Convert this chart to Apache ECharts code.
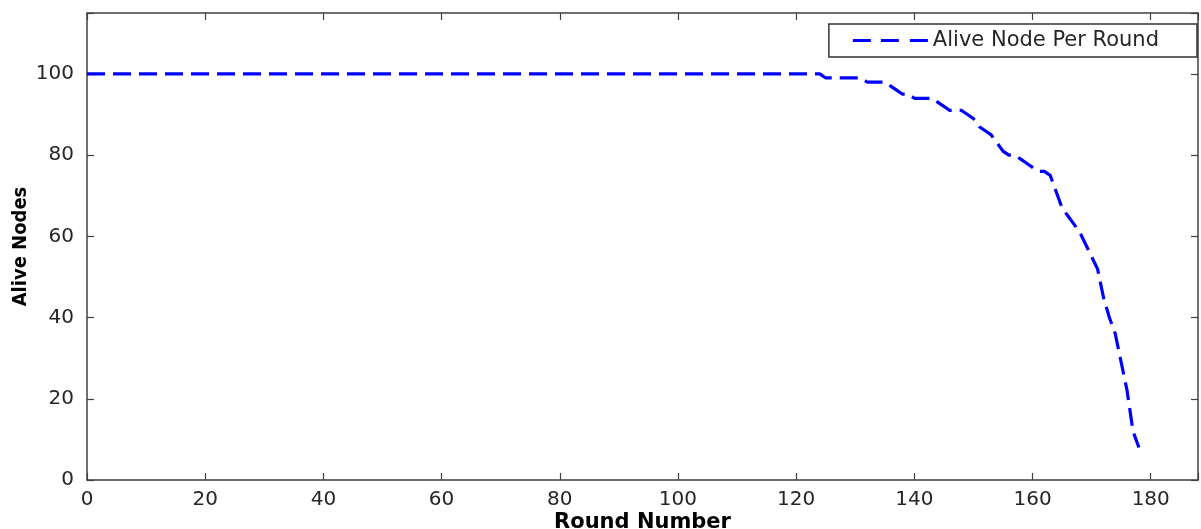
<!DOCTYPE html>
<html>
<head>
<meta charset="utf-8">
<script src="https://cdn.jsdelivr.net/npm/echarts@6/dist/echarts.min.js"></script>
<style>
html,body{margin:0;padding:0;background:#fff;}
#chart{width:1201px;height:529px;}
</style>
</head>
<body>
<div id="chart"></div>
<script>
// Data
const rounds = [0,124,125,131,132,135,136,137,138,139,140,143,144,145,146,148,149,150,151,152,153,154,155,156,157,158,159,160,161,162,163,164,165,166,167,168,169,170,171,172,173,174,175,176,177,178];
const aliveNodes = [100,100,99,99,98,98,97,96,95,95,94,94,93,92,91,91,90,89,87,86,85,83,81,80,80,79,78,77,76,76,75,71,67,65,63,61,58,55,52,45,40,36,29,22,12,8];
const seriesName = 'Alive Node Per Round';
const xTitle = 'Round Number';
const yTitle = 'Alive Nodes';
const xMin = 0, xMax = 188, xStep = 20;
const yMin = 0, yMax = 115, yStep = 20;

const points = rounds.map((r, i) => [r, aliveNodes[i]]);
const axisColor = '#404040';
const labelFont = {color: '#262626', fontFamily: 'DejaVu Sans', fontSize: 20};

function multipleOf(step) {
  return v => (Math.abs(v / step - Math.round(v / step)) < 1e-9 ? String(v) : '');
}

const chart = echarts.init(document.getElementById('chart'), null, {renderer: 'canvas'});
chart.setOption({
  animation: false,
  backgroundColor: '#ffffff',
  grid: {left: 87, right: 3, top: 13, bottom: 49, containLabel: false, outerBoundsMode: 'none'},
  legend: {
    right: 4, top: 24,
    data: [{name: seriesName, icon: 'path://M0,0h18v3h-18z M28,0h18v3h-18z M57,0h18v3h-18z'}],
    itemWidth: 75, itemHeight: 3, itemGap: 7,
    padding: [6, 38, 6, 24],
    borderColor: '#333', borderWidth: 1.5,
    backgroundColor: '#fff',
    itemStyle: {color: '#0000ff'},
    textStyle: {color: '#262626', fontFamily: 'DejaVu Sans', fontSize: 21, lineHeight: 18}
  },
  xAxis: [{
    type: 'value', min: xMin, max: xMax, interval: xStep,
    name: xTitle, nameLocation: 'middle', nameGap: 32, nameMoveOverlap: false,
    nameTextStyle: {color: '#000', fontFamily: 'DejaVu Sans', fontWeight: 'bold', fontSize: 21},
    axisLine: {show: true, onZero: false, lineStyle: {color: axisColor, width: 1.5}},
    axisTick: {show: true, inside: true, length: 7, lineStyle: {color: axisColor, width: 1.2}},
    axisLabel: Object.assign({margin: 10, formatter: multipleOf(xStep)}, labelFont),
    splitLine: {show: false}
  }, {
    type: 'value', position: 'top', min: xMin, max: xMax, interval: xStep,
    axisLine: {show: true, onZero: false, lineStyle: {color: axisColor, width: 1.5}},
    axisTick: {show: true, inside: true, length: 7, lineStyle: {color: axisColor, width: 1.2}},
    axisLabel: {show: false}, splitLine: {show: false}
  }],
  yAxis: [{
    type: 'value', min: yMin, max: yMax, interval: yStep,
    name: yTitle, nameLocation: 'middle', nameGap: 56, nameRotate: 90, nameMoveOverlap: false,
    nameTextStyle: {color: '#000', fontFamily: 'Liberation Sans Narrow, DejaVu Sans Condensed, DejaVu Sans', fontWeight: 'bold', fontSize: 20},
    axisLine: {show: true, onZero: false, lineStyle: {color: axisColor, width: 1.5}},
    axisTick: {show: true, inside: true, length: 7, lineStyle: {color: axisColor, width: 1.2}},
    axisLabel: Object.assign({margin: 13, formatter: multipleOf(yStep)}, labelFont),
    splitLine: {show: false}
  }, {
    type: 'value', position: 'right', min: yMin, max: yMax, interval: yStep,
    axisLine: {show: true, onZero: false, lineStyle: {color: axisColor, width: 1.5}},
    axisTick: {show: true, inside: true, length: 7, lineStyle: {color: axisColor, width: 1.2}},
    axisLabel: {show: false}, splitLine: {show: false}
  }],
  series: [{
    name: seriesName,
    type: 'line',
    xAxisIndex: 0, yAxisIndex: 0,
    data: points,
    symbol: 'none', showSymbol: false,
    lineStyle: {color: '#0000ff', width: 3.2, type: [18, 8]},
    itemStyle: {color: '#0000ff'}
  }]
});
</script>
</body>
</html>
